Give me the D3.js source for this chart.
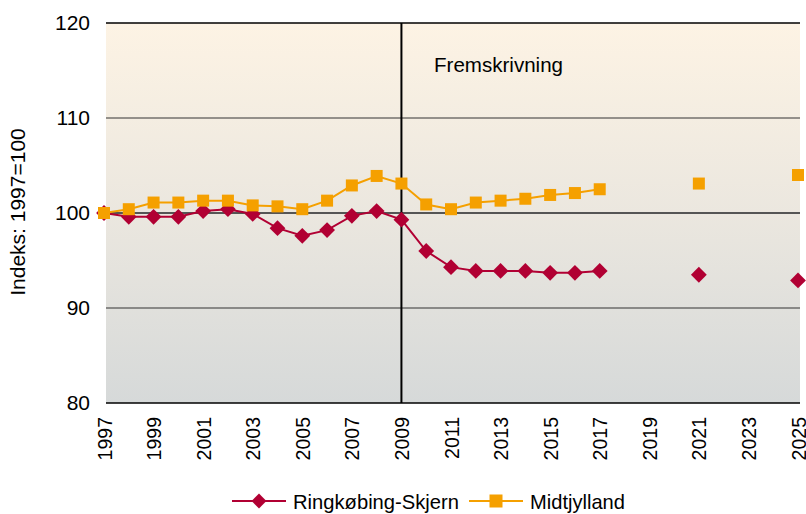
<!DOCTYPE html>
<html>
<head>
<meta charset="utf-8">
<script src="https://cdn.jsdelivr.net/npm/d3@7"></script>
<style>
  html, body { margin: 0; padding: 0; background: #fff; }
  svg { display: block; font-family: "Liberation Sans", Arial, sans-serif; }
</style>
</head>
<body>
<svg id="chart" width="806" height="514"></svg>
<script>
const years = [1997,1998,1999,2000,2001,2002,2003,2004,2005,2006,2007,2008,2009,2010,2011,2012,2013,2014,2015,2016,2017,2018,2019,2020,2021,2022,2023,2024,2025];
const ringkobing = [100.0,99.6,99.6,99.6,100.2,100.4,99.9,98.4,97.6,98.2,99.7,100.2,99.3,96.0,94.3,93.9,93.9,93.9,93.7,93.7,93.9,null,null,null,93.5,null,null,null,92.9];
const midtjylland = [100.0,100.4,101.1,101.1,101.3,101.3,100.8,100.7,100.4,101.3,102.9,103.9,103.1,100.9,100.4,101.1,101.3,101.5,101.9,102.1,102.5,null,null,null,103.1,null,null,null,104.0];
const xTickLabels = ["1997","1999","2001","2003","2005","2007","2009","2011","2013","2015","2017","2019","2021","2023","2025"];
const yTicks = [80, 90, 100, 110, 120];
const seriesNames = ["Ringkøbing-Skjern", "Midtjylland"];
const forecastYear = 2009;
const forecastLabel = "Fremskrivning";
const yAxisTitle = "Indeks: 1997=100";

const svg = d3.select("#chart");
const plot = { left: 106, right: 800, top: 23, bottom: 403 };

const x = d3.scaleLinear().domain([1997, 2025]).range([104, 798]);
const y = d3.scaleLinear().domain([80, 120]).range([plot.bottom, plot.top]);

// background gradient
const defs = svg.append("defs");
const grad = defs.append("linearGradient").attr("id", "bg").attr("x1", 0).attr("y1", 0).attr("x2", 0).attr("y2", 1);
grad.append("stop").attr("offset", "0%").attr("stop-color", "#fdf3e4");
grad.append("stop").attr("offset", "50%").attr("stop-color", "#ebe7df");
grad.append("stop").attr("offset", "100%").attr("stop-color", "#d6d9d9");
svg.append("rect").attr("x", plot.left).attr("y", plot.top)
  .attr("width", plot.right - plot.left).attr("height", plot.bottom - plot.top)
  .attr("fill", "url(#bg)");

// gridlines
const gridColor = { 80: "#000", 90: "#333", 100: "#555", 110: "#333", 120: "#000" };
const gridWidth = { 80: 1.5, 90: 1, 100: 2, 110: 1, 120: 1.5 };
svg.append("g").selectAll("line").data(yTicks).join("line")
  .attr("x1", plot.left).attr("x2", plot.right)
  .attr("y1", d => y(d)).attr("y2", d => y(d))
  .attr("stroke", d => gridColor[d]).attr("stroke-width", d => gridWidth[d]);

// y axis labels
const yAxis = d3.axisLeft(y).tickValues(yTicks).tickSize(0).tickPadding(0).tickFormat(d3.format("d"));
const yg = svg.append("g").attr("transform", `translate(${plot.left - 16},0)`).call(yAxis);
yg.select(".domain").remove();
yg.selectAll("text").attr("font-size", 21).attr("fill", "#000").attr("font-family", "Liberation Sans, Arial, sans-serif");

// y axis title
svg.append("text").attr("transform", `translate(25,${y(100) - 1}) rotate(-90)`)
  .attr("text-anchor", "middle").attr("font-size", 21).attr("fill", "#000")
  .text(yAxisTitle);

// x axis labels
const xAxis = d3.axisBottom(x).tickValues(xTickLabels.map(Number)).tickSize(0).tickFormat(d => String(d));
const xg = svg.append("g").attr("transform", `translate(0,${plot.bottom})`).call(xAxis);
xg.select(".domain").remove();
xg.selectAll("text")
  .attr("font-size", 19.5).attr("fill", "#000").attr("font-family", "Liberation Sans, Arial, sans-serif")
  .attr("transform", "rotate(-90)")
  .attr("text-anchor", "end")
  .attr("x", -14).attr("y", 0).attr("dy", "0.36em");

// forecast vertical line
svg.append("line").attr("x1", x(forecastYear)).attr("x2", x(forecastYear))
  .attr("y1", plot.top).attr("y2", plot.bottom)
  .attr("stroke", "#000").attr("stroke-width", 2);
svg.append("text").attr("x", 434).attr("y", 72).attr("font-size", 21).attr("fill", "#000")
  .attr("textLength", 129).attr("lengthAdjust", "spacingAndGlyphs")
  .text(forecastLabel);

const colors = ["#b10033", "#f5a000"];
const data = [ringkobing, midtjylland];

const line = d3.line().defined(d => d.v != null).x(d => x(d.year)).y(d => y(d.v));

data.forEach((vals, i) => {
  const pts = years.map((yr, j) => ({ year: yr, v: vals[j] }));
  svg.append("path").datum(pts).attr("d", line)
    .attr("fill", "none").attr("stroke", colors[i]).attr("stroke-width", 2);
  const valid = pts.filter(d => d.v != null);
  if (i === 0) {
    svg.append("g").selectAll("path").data(valid).join("path")
      .attr("d", d3.symbol().type(d3.symbolSquare).size(125))
      .attr("transform", d => `translate(${x(d.year)},${y(d.v)}) rotate(45)`)
      .attr("fill", colors[i]);
  } else {
    svg.append("g").selectAll("rect").data(valid).join("rect")
      .attr("x", d => x(d.year) - 6).attr("y", d => y(d.v) - 6)
      .attr("width", 12).attr("height", 12)
      .attr("fill", colors[i]);
  }
});

// legend
const legendY = 501;
const leg = svg.append("g");
const legItems = [
  { name: seriesNames[0], color: colors[0], x0: 232, shape: "diamond", w: 166 },
  { name: seriesNames[1], color: colors[1], x0: 469, shape: "square", w: 95 }
];
legItems.forEach(it => {
  leg.append("line").attr("x1", it.x0).attr("x2", it.x0 + 54).attr("y1", legendY).attr("y2", legendY)
    .attr("stroke", it.color).attr("stroke-width", 2);
  if (it.shape === "diamond") {
    leg.append("path").attr("d", d3.symbol().type(d3.symbolSquare).size(110))
      .attr("transform", `translate(${it.x0 + 27},${legendY}) rotate(45)`).attr("fill", it.color);
  } else {
    leg.append("rect").attr("x", it.x0 + 27 - 6.5).attr("y", legendY - 6.5).attr("width", 13).attr("height", 13).attr("fill", it.color);
  }
  leg.append("text").attr("x", it.x0 + 61).attr("y", legendY).attr("dy", "0.36em")
    .attr("font-size", 21).attr("fill", "#000")
    .attr("textLength", it.w).attr("lengthAdjust", "spacingAndGlyphs")
    .text(it.name);
});
</script>
</body>
</html>
